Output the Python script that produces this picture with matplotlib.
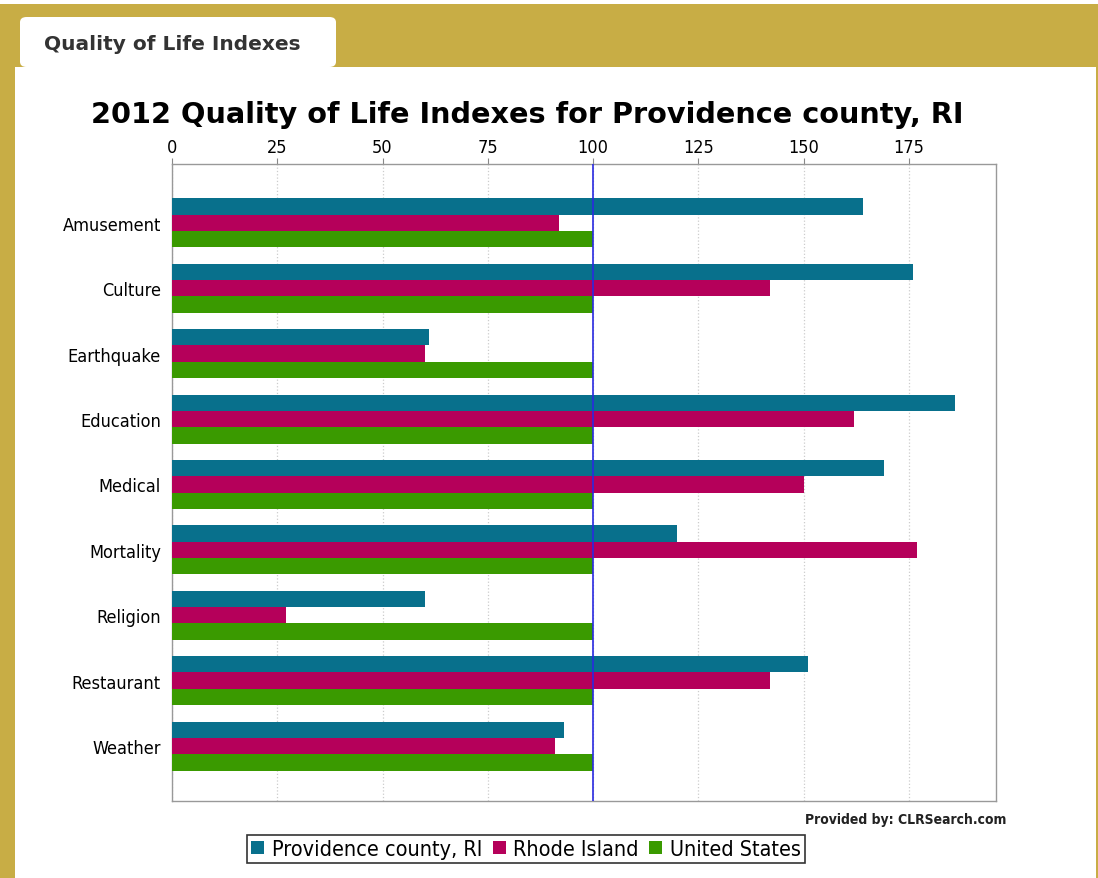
import numpy as np
import matplotlib.pyplot as plt
from matplotlib.patches import Rectangle, FancyBboxPatch

categories = ["Amusement", "Culture", "Earthquake", "Education", "Medical",
              "Mortality", "Religion", "Restaurant", "Weather"]
providence = [164, 176, 61, 186, 169, 120, 60, 151, 93]
rhode_island = [92, 142, 60, 162, 150, 177, 27, 142, 91]
united_states = [100, 100, 100, 100, 100, 100, 100, 100, 100]
series_names = ["Providence county, RI", "Rhode Island", "United States"]
colors = ["#08708c", "#b5005a", "#3a9a00"]
xticks = [0, 25, 50, 75, 100, 125, 150, 175]

W, H = 1098, 879
fig = plt.figure(figsize=(W / 100, H / 100), dpi=100)
fig.patch.set_facecolor("#c8ad45")

def px_rect(x0, y0, x1, y1, **kw):
    # rectangle in pixel coords (origin top-left)
    return Rectangle((x0 / W, 1 - y1 / H), (x1 - x0) / W, (y1 - y0) / H,
                     transform=fig.transFigure, zorder=-5, **kw)

# page background pieces
fig.patches.append(px_rect(0, 0, W, 5, facecolor="white", edgecolor="none"))
fig.patches.append(px_rect(15, 68, 1096, H, facecolor="white", edgecolor="none"))
tab = FancyBboxPatch((20 / W, 1 - 68 / H), 316 / W, 50 / H,
                     boxstyle="round,pad=0,rounding_size=0.006",
                     transform=fig.transFigure, facecolor="white", edgecolor="none",
                     zorder=-5)
fig.patches.append(tab)
fig.text(44 / W, 1 - 45 / H, "Quality of Life Indexes", fontsize=14.5, fontweight="bold",
         family="DejaVu Sans", fontstretch="normal", color="#333333",
         va="center", ha="left")

ax = fig.add_axes([172 / W, 1 - 802 / H, (996 - 172) / W, (802 - 165) / H])
ax.set_zorder(2)
y = np.arange(len(categories))
h = 0.25
for i, (vals, c, name) in enumerate(zip([providence, rhode_island, united_states],
                                         colors, series_names)):
    ax.barh(y + (i - 1) * h, vals, height=h, color=c, label=name,
            edgecolor="none", zorder=3)

ax.axvline(100, color="#2a2ae0", lw=1.2, zorder=4)
ax.set_xlim(0, 195.7)
ax.set_ylim(8.84, -0.9)
ax.set_yticks(y)
ax.set_yticklabels(categories, fontstretch="condensed", fontsize=13)
ax.set_xticks(xticks)
ax.set_xticklabels([str(t) for t in xticks], fontstretch="condensed", fontsize=13)
ax.xaxis.tick_top()
ax.tick_params(axis="x", length=4, color="#888888", pad=2)
ax.tick_params(axis="y", length=0, pad=8)
ax.grid(axis="x", color="#cccccc", linestyle=":", lw=0.9, zorder=0)
for s in ax.spines.values():
    s.set_color("#999999")
    s.set_linewidth(1)

fig.text(527 / W, 1 - 115 / H, "2012 Quality of Life Indexes for Providence county, RI",
         fontsize=20.7, fontweight="bold", ha="center", va="center", color="black")
fig.text(1006 / W, 1 - 820 / H, "Provided by: CLRSearch.com", fontsize=10,
         fontweight="bold", fontstretch="condensed", ha="right", va="center",
         color="#222222")

leg = fig.legend(loc="center", bbox_to_anchor=(526 / W, 1 - 850 / H), ncol=3,
                 frameon=True, fancybox=False, edgecolor="black",
                 prop={"stretch": "condensed", "size": 15.5},
                 handlelength=0.6, handleheight=0.6, handletextpad=0.35,
                 columnspacing=0.5, borderpad=0.2, borderaxespad=0)
leg.get_frame().set_linewidth(1.2)

fig.savefig("out.png", dpi=100, facecolor=fig.get_facecolor())
